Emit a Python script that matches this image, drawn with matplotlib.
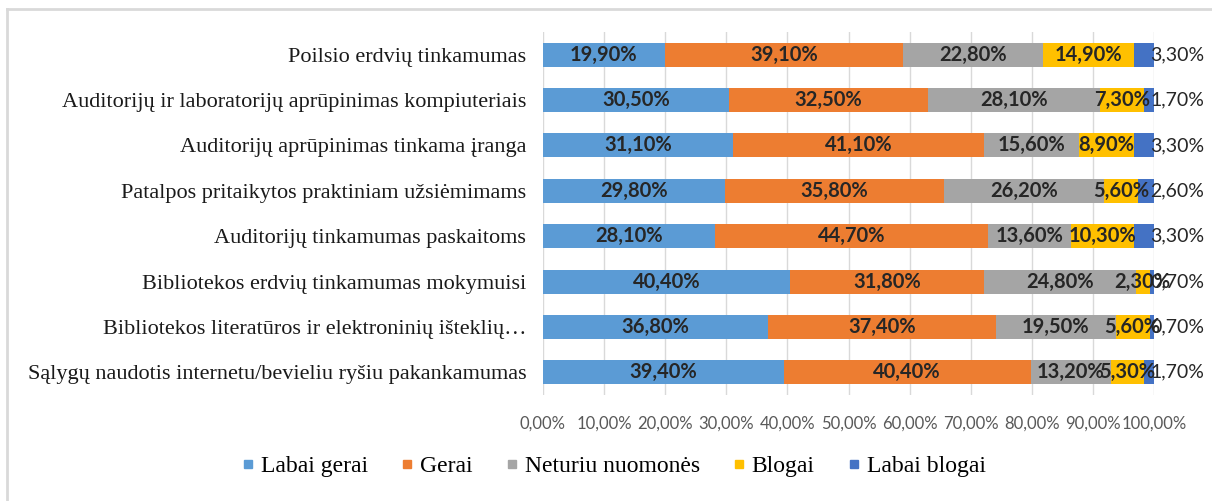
import matplotlib.pyplot as plt
from matplotlib.lines import Line2D
import numpy as np

# kategorijos (nuo virsaus i apacia)
kategorijos = [
    "Poilsio erdvių tinkamumas",
    "Auditorijų ir laboratorijų aprūpinimas kompiuteriais",
    "Auditorijų aprūpinimas tinkama įranga",
    "Patalpos pritaikytos praktiniam užsiėmimams",
    "Auditorijų tinkamumas paskaitoms",
    "Bibliotekos erdvių tinkamumas mokymuisi",
    "Bibliotekos literatūros ir elektroninių išteklių…",
    "Sąlygų naudotis internetu/bevieliu ryšiu pakankamumas",
]
labai_gerai = [19.9, 30.5, 31.1, 29.8, 28.1, 40.4, 36.8, 39.4]
gerai = [39.1, 32.5, 41.1, 35.8, 44.7, 31.8, 37.4, 40.4]
neturiu = [22.8, 28.1, 15.6, 26.2, 13.6, 24.8, 19.5, 13.2]
blogai = [14.9, 7.3, 8.9, 5.6, 10.3, 2.3, 5.6, 5.3]
labai_blogai = [3.3, 1.7, 3.3, 2.6, 3.3, 0.7, 0.7, 1.7]

serijos = ["Labai gerai", "Gerai", "Neturiu nuomonės", "Blogai", "Labai blogai"]
spalvos = ["#5B9BD5", "#ED7D31", "#A5A5A5", "#FFC000", "#4472C4"]
x_ticks = [0, 10, 20, 30, 40, 50, 60, 70, 80, 90, 100]

duomenys = [labai_gerai, gerai, neturiu, blogai, labai_blogai]

fig = plt.figure(figsize=(12.12, 5.01), dpi=100)
ax = fig.add_axes([543 / 1212, 1 - 395 / 501, (1154 - 543) / 1212, (395 - 32) / 501])

y = np.arange(len(kategorijos))
kaire = np.zeros(len(kategorijos))
for i, (vals, spalva) in enumerate(zip(duomenys, spalvos)):
    vals = np.array(vals) / 100
    ax.barh(y, vals, left=kaire, height=0.53, color=spalva, zorder=2)
    for j, v in enumerate(vals):
        txt = f"{v * 100:.2f}%".replace(".", ",")
        if i == 4:
            ax.text(0.994, y[j], txt, ha="left", va="center", fontsize=14,
                    family="Lato", color="#262626", zorder=3, clip_on=False)
        else:
            ax.text(kaire[j] + v / 2, y[j], txt, ha="center", va="center",
                    fontsize=14.5, family="Lato", fontweight="bold",
                    color="#262626", zorder=3)
    kaire = kaire + vals

ax.set_xlim(0, 1)
ax.set_ylim(len(kategorijos) - 0.5, -0.5)
ax.set_yticks(y)
ax.set_yticklabels(kategorijos, family="Liberation Serif", fontsize=16, color="#1a1a1a")
ax.set_xticks(np.array(x_ticks) / 100)
ax.set_xticklabels([f"{t:.2f}%".replace(".", ",") for t in x_ticks],
                   family="Lato", fontsize=12, color="#595959")
ax.tick_params(axis="both", length=0)
ax.tick_params(axis="x", pad=15)
ax.tick_params(axis="y", pad=12)
ax.grid(axis="x", color="#D9D9D9", linewidth=1, zorder=0)
for s in ax.spines.values():
    s.set_visible(False)

rankenos = [Line2D([0], [0], marker="s", linestyle="none", markersize=6,
                   markerfacecolor=c, markeredgecolor=c) for c in spalvos]
fig.legend(rankenos, serijos, loc="center", bbox_to_anchor=(614 / 1212, 1 - 466 / 501),
           ncol=5, frameon=False, handlelength=0.5, handletextpad=0.3,
           columnspacing=1.4, prop={"family": "Liberation Serif", "size": 17})

# remelis
fig.add_artist(Line2D([6.5 / 1212, 1], [1 - 8.5 / 501, 1 - 8.5 / 501],
                      color="#D9D9D9", linewidth=2, transform=fig.transFigure))
fig.add_artist(Line2D([6.5 / 1212, 6.5 / 1212], [0, 1 - 8.5 / 501],
                      color="#D9D9D9", linewidth=2, transform=fig.transFigure))

fig.savefig("out.png", dpi=100)
